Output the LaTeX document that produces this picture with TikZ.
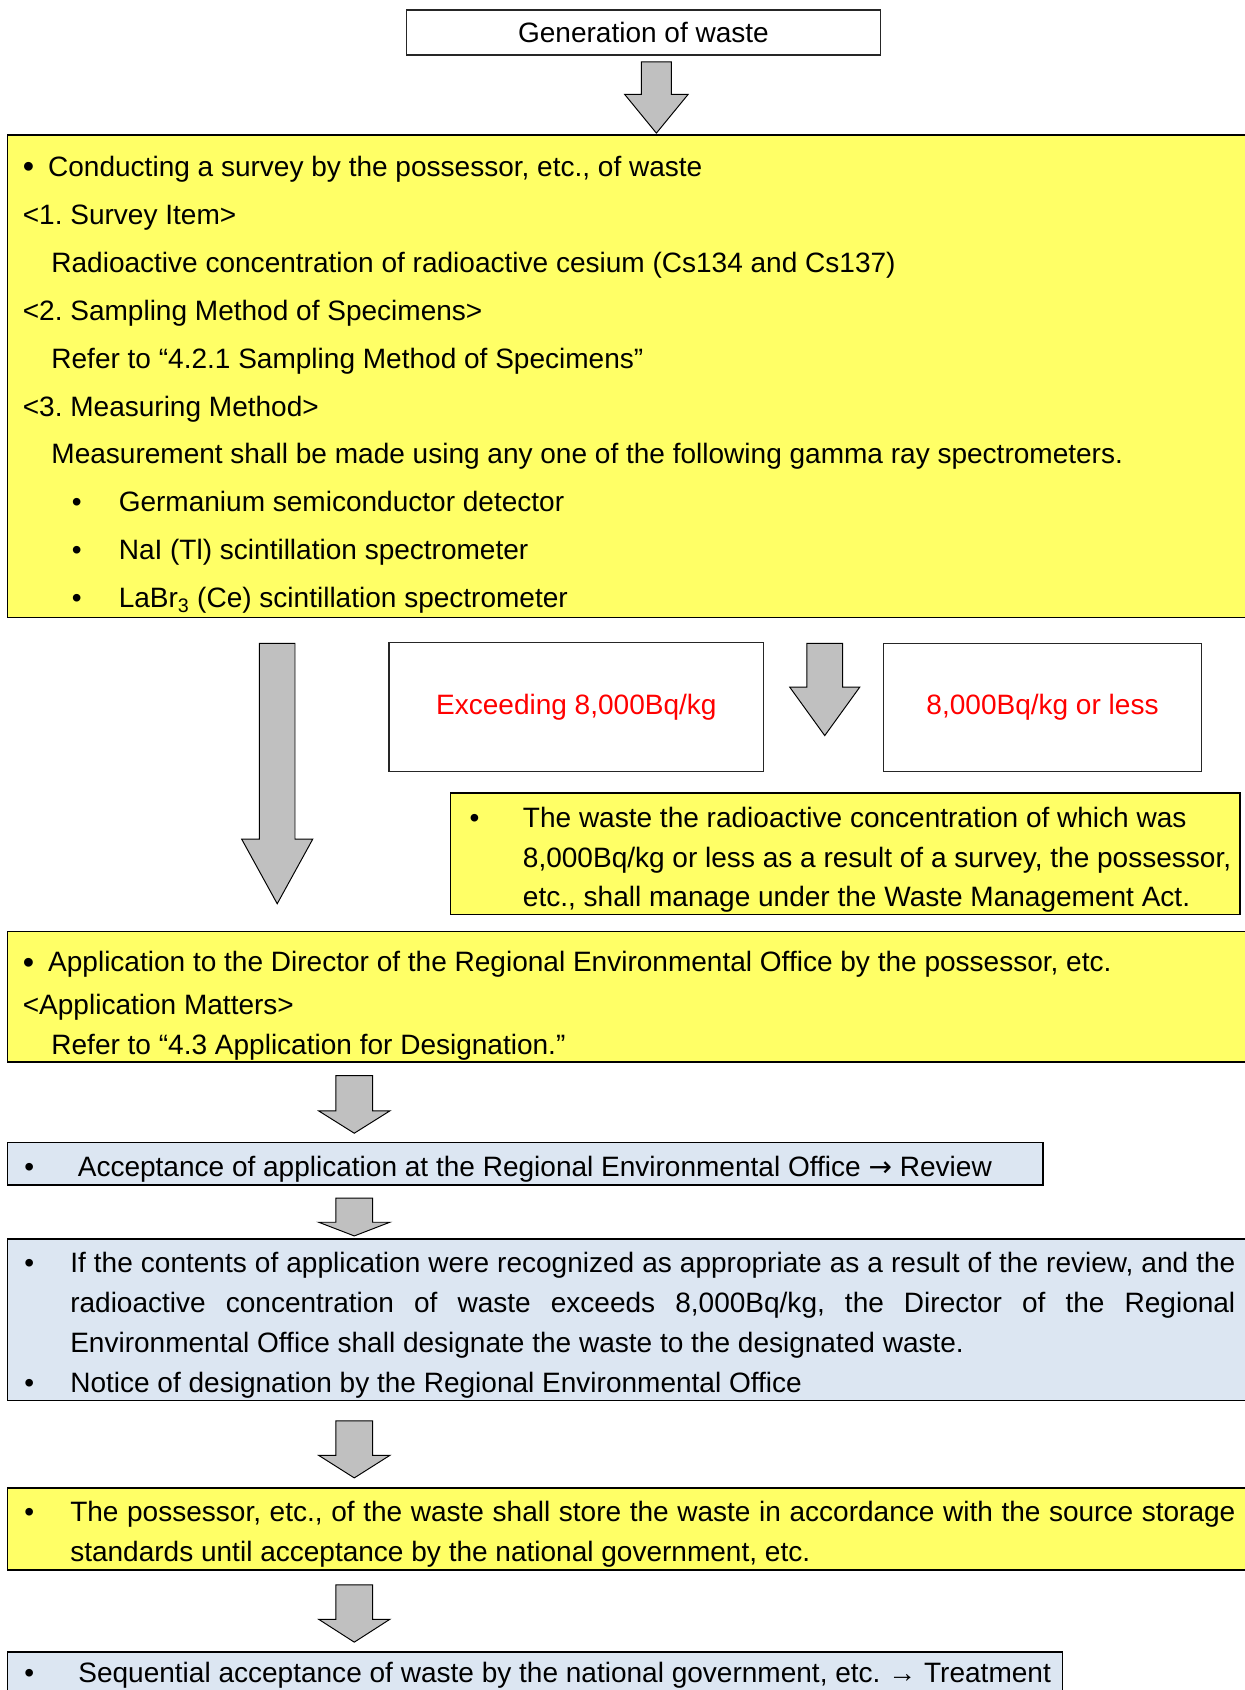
\documentclass[tikz,border=0pt]{standalone}
\usepackage{fontspec}
\setmainfont{Liberation Sans}
\newfontfamily\symfont{DejaVu Sans}
\definecolor{boxyellow}{HTML}{FFFF66}
\definecolor{boxblue}{HTML}{DCE6F2}
\definecolor{arrowgray}{HTML}{C0C0C0}
\tikzset{
  yellowbox/.style={draw=black, line width=1.5pt, fill=boxyellow},
  bluebox/.style={draw=black, line width=1.5pt, fill=boxblue},
  whitebox/.style={draw=black!85, line width=1.2pt, fill=white},
  fatarrow/.style={draw=black, line width=0.9pt, fill=arrowgray},
  txt/.style={anchor=base west, inner sep=0pt, font=\fontsize{26}{26}\selectfont\frenchspacing},
  redtxt/.style={inner sep=0pt, text=red, font=\fontsize{26}{26}\selectfont}
}
% x centre, top, head base, tip, half shaft, half head
\newcommand{\fatarrow}[6]{%
  \draw[fatarrow] ({#1-#5},#2) -- ({#1+#5},#2) -- ({#1+#5},#3) -- ({#1+#6},#3)
    -- (#1,#4) -- ({#1-#6},#3) -- ({#1-#5},#3) -- cycle;}
\newcommand{\blackdot}{\raisebox{-1.5pt}{\fontsize{30}{30}\selectfont •}}
\begin{document}
\begin{tikzpicture}[x=1pt,y=-1pt]
\useasboundingbox (0,0) rectangle (1155,1568);
\clip (0,0) rectangle (1155,1568);

\draw[whitebox, line width=1.5pt] (377,9) rectangle (817,51) node[pos=.5, txt, anchor=center] (gen) {Generation of waste};
\fatarrow{609}{57.5}{87.5}{123.5}{14}{29.5}

% survey
\draw[yellowbox] (7,125.5) rectangle (1175,573);
\node[txt] (dot1) at (21,163.5) {\blackdot};
\node[txt] (survey) at (44.5,163.5) {Conducting a survey by the possessor, etc., of waste};
\node[txt] (item) at (21,208) {<1. Survey Item>};
\node[txt] (itemtxt) at (47.5,252.5) {Radioactive concentration of radioactive cesium (Cs134 and Cs137)};
\node[txt] (sampling) at (21,297) {<2. Sampling Method of Specimens>};
\node[txt] (samptxt) at (47.5,341.5) {Refer to “4.2.1 Sampling Method of Specimens”};
\node[txt] (measure) at (21,386) {<3. Measuring Method>};
\node[txt] (meastxt) at (47.5,430.5) {Measurement shall be made using any one of the following gamma ray spectrometers.};
\node[txt] (b1) at (66.5,475) {•};
\node[txt] (ge) at (110,475) {Germanium semiconductor detector};
\node[txt] (b2) at (66.5,519.5) {•};
\node[txt] (nai) at (110,519.5) {NaI (Tl) scintillation spectrometer};
\node[txt] (b3) at (66.5,564) {•};
\node[txt] (labr) at (110,564) {LaBr\textsubscript{3} (Ce) scintillation spectrometer};

% result of survey
\fatarrow{257.2}{597}{778.5}{838.5}{16.5}{33}
\draw[whitebox] (361,596) rectangle (708.5,716) node[pos=.5, redtxt] (exceed) {Exceeding 8,000Bq/kg};
\fatarrow{765.2}{597}{637.5}{682.5}{16.5}{32.5}
\draw[whitebox] (820,597) rectangle (1114.5,716) node[pos=.5, redtxt] (less) {8,000Bq/kg or less};
\draw[yellowbox] (418,735.7) rectangle (1150.4,848.4);
\node[txt] (b4) at (435.5,767.5) {•};
\node[txt] (manage1) at (485,767.5) {The waste the radioactive concentration of which was};
\node[txt] (manage2) at (485,804.5) {8,000Bq/kg or less as a result of a survey, the possessor,};
\node[txt] (manage3) at (485,841.5) {etc., shall manage under the Waste Management Act.};

% application
\draw[yellowbox] (7,864.4) rectangle (1175,985.2);
\node[txt] (dot2) at (21,901.5) {\blackdot};
\node[txt] (appl) at (44.5,901.5) {Application to the Director of the Regional Environmental Office by the possessor, etc.};
\node[txt] (matters) at (21,941.5) {<Application Matters>};
\node[txt] (mattxt) at (47.5,978.8) {Refer to “4.3 Application for Designation.”};

\fatarrow{328.7}{998}{1030.7}{1051.4}{17}{33}
\draw[bluebox] (7,1060) rectangle (967.6,1099.4);
\node[txt] (b5) at (22.5,1092) {•};
\node[txt] (review) at (72,1092) {Acceptance of application at the Regional Environmental Office {\symfont →} Review};

\fatarrow{328.7}{1111.7}{1134}{1146.7}{17}{33}
\draw[bluebox] (7,1149.5) rectangle (1175,1299.3);
\node[txt] (b6) at (22.5,1180.5) {•};
\node[txt] (desig1) at (65,1180.5) {\makebox[1081pt][s]{If the contents of application were recognized as appropriate as a result of the review, and the}};
\node[txt] (desig2) at (65,1217.7) {\makebox[1081pt][s]{radioactive concentration of waste exceeds 8,000Bq/kg, the Director of the Regional}};
\node[txt] (desig3) at (65,1254.9) {Environmental Office shall designate the waste to the designated waste.};
\node[txt] (b7) at (22.5,1292.1) {•};
\node[txt] (notice) at (65,1292.1) {Notice of designation by the Regional Environmental Office};

\fatarrow{328.7}{1318.3}{1350.3}{1371.2}{17}{33}
\draw[yellowbox] (7,1380.3) rectangle (1175,1456.5);
\node[txt] (b8) at (22.5,1411.7) {•};
\node[txt] (store1) at (65,1411.7) {\makebox[1081pt][s]{The possessor, etc., of the waste shall store the waste in accordance with the source storage}};
\node[txt] (store2) at (65,1448.8) {standards until acceptance by the national government, etc.};

\fatarrow{328.7}{1470.5}{1502.4}{1523.6}{17}{33}
\draw[bluebox] (7,1532.9) rectangle (985.7,1600);
\node[txt] (b9) at (22.5,1561.4) {•};
\node[txt] (treat) at (72.5,1561.4) {Sequential acceptance of waste by the national government, etc. → Treatment};
\end{tikzpicture}
\end{document}
